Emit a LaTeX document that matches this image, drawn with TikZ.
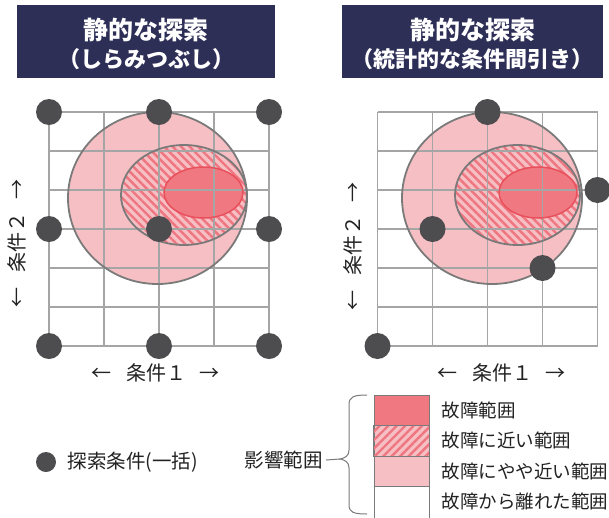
\documentclass[tikz,border=0pt]{standalone}
\usepackage{fontspec}
\setmainfont{Noto Sans CJK JP}
\usetikzlibrary{patterns.meta}
\definecolor{navy}{HTML}{2E2F57}
\definecolor{pinkL}{HTML}{F6BFC4}
\definecolor{redF}{HTML}{F07880}
\definecolor{redB}{HTML}{E8505C}
\definecolor{stripe}{HTML}{EE7680}
\definecolor{gridc}{HTML}{A5A5A5}
\definecolor{outl}{HTML}{7A7A7A}
\definecolor{dotc}{HTML}{4D4D4F}
\definecolor{txt}{HTML}{222222}
\tikzset{
  dot/.style={circle, fill=dotc, minimum size=26pt, inner sep=0pt},
  gridl/.style={draw=gridc, line width=1.1pt},
  outline/.style={draw=outl, line width=1.8pt},
  innerline/.style={draw=redB, line width=1.5pt},
  hatchA/.style={pattern={Lines[angle=-45,distance=6pt,line width=2.4pt]}, pattern color=stripe},
  hatchB/.style={pattern={Lines[angle=45,distance=6pt,line width=2.4pt]}, pattern color=stripe},
  titlebox/.style={fill=navy, text=white, minimum height=73pt, align=center, inner sep=0pt,
    font=\fontsize{25}{29}\selectfont\bfseries},
  axislabel/.style={font=\fontsize{20}{24}\selectfont, text=txt},
  leg/.style={font=\fontsize{18.5}{22}\selectfont, anchor=west, text=txt},
  legbox/.style={draw=outl, line width=1pt, minimum width=55pt, inner sep=0pt},
  braceline/.style={draw=outl, line width=1pt},
}
\begin{document}
\begin{tikzpicture}[x=1pt,y=-1pt]
\useasboundingbox (0,0) rectangle (609,517);
\fill[white] (0,0) rectangle (609,517);

% titles
\fill[navy] (17,5) rectangle (275,78);
\fill[navy] (342,5) rectangle (603,78);
\node[titlebox, fill=none, minimum width=258pt] (t1) at (146,44)
  {静的な探索\\[-1pt]{\fontsize{22}{26}\selectfont （しらみつぶし）}};
\node[titlebox, fill=none, minimum width=261pt] (t2) at (472.5,44)
  {静的な探索\\[-1pt]{\fontsize{22}{26}\selectfont （統計的な条件間引き）}};

% ---------- left panel ----------
\fill[pinkL] (157.5,198) ellipse [x radius=89.5pt, y radius=86pt];
\fill[pinkL] (184,195) ellipse [x radius=63pt, y radius=50pt];
\fill[hatchA] (184,195) ellipse [x radius=63pt, y radius=50pt];
\fill[redF] (203.5,192.5) ellipse [x radius=39.5pt, y radius=25.5pt];
\foreach \x in {49,104,159,214,269} \draw[gridl] (\x,112) -- (\x,346);
\foreach \y in {112,151,190,229,268,307,346} \draw[gridl] (49,\y) -- (269,\y);
\draw[outline] (157.5,198) ellipse [x radius=89.5pt, y radius=86pt];
\draw[outline] (184,195) ellipse [x radius=63pt, y radius=50pt];
\draw[innerline] (203.5,192.5) ellipse [x radius=39.5pt, y radius=25.5pt];
\node[dot] (a1) at (49,112) {};
\node[dot] (a2) at (159,112) {};
\node[dot] (a3) at (269,112) {};
\node[dot] (a4) at (49,229) {};
\node[dot] (a5) at (159,229) {};
\node[dot] (a6) at (269,229) {};
\node[dot] (a7) at (49,346) {};
\node[dot] (a8) at (159,346) {};
\node[dot] (a9) at (269,346) {};
\node[axislabel] (ax1) at (155,373) {←\hspace{15pt}条件１\hspace{13pt}→};
\node[axislabel, rotate=90] (ay1) at (17,243) {←\hspace{15pt}条件２\hspace{13pt}→};

% ---------- right panel ----------
\fill[pinkL] (492,198) ellipse [x radius=90pt, y radius=86pt];
\fill[pinkL] (517.5,195) ellipse [x radius=62.5pt, y radius=50pt];
\fill[hatchA] (517.5,195) ellipse [x radius=62.5pt, y radius=50pt];
\fill[redF] (538,192.5) ellipse [x radius=39pt, y radius=25.5pt];
\foreach \x in {377.5,432.5,487.5,542.5,597.5} \draw[gridl] (\x,112) -- (\x,346);
\foreach \y in {112,151,190,229,268,307,346} \draw[gridl] (377.5,\y) -- (597.5,\y);
\draw[outline] (492,198) ellipse [x radius=90pt, y radius=86pt];
\draw[outline] (517.5,195) ellipse [x radius=62.5pt, y radius=50pt];
\draw[innerline] (538,192.5) ellipse [x radius=39pt, y radius=25.5pt];
\node[dot] (b1) at (487.5,112) {};
\node[dot] (b2) at (597.5,190) {};
\node[dot] (b3) at (432.5,229) {};
\node[dot] (b4) at (542.5,268) {};
\node[dot] (b5) at (377.5,346) {};
\node[axislabel] (ax2) at (501,373) {←\hspace{15pt}条件１\hspace{13pt}→};
\node[axislabel, rotate=90] (ay2) at (353,246) {←\hspace{15pt}条件２\hspace{13pt}→};

% ---------- legend ----------
\node[dot, minimum size=20pt] (ld) at (46,462) {};
\node[leg, font=\fontsize{19.5}{22}\selectfont] (ldt) at (64,462) {探索条件(一括)};
\node[leg, font=\fontsize{19.5}{22}\selectfont] (eik) at (241,460) {影響範囲};
\coordinate (btip) at (340,459);
\draw[braceline] (eik.east) -- (btip);
\draw[braceline] (367,395) .. controls (353,395) and (349,397) .. (349,405)
  -- (349,450) .. controls (349,456) and (345,458) .. (btip)
  .. controls (345,460) and (349,462) .. (349,468)
  -- (349,505) .. controls (349,512) and (353,514) .. (367,514);

\node[legbox, fill=redF, minimum height=30.5pt] (k1) at (401.5,410.25) {};
\node[legbox, fill=pinkL, minimum height=30.5pt] (k2) at (401.5,440.75) {};
\fill[hatchB] (k2.south west) rectangle (k2.north east);
\draw[draw=outl, line width=1pt] (k2.south west) rectangle (k2.north east);
\node[legbox, fill=pinkL, minimum height=30.5pt] (k3) at (401.5,471.25) {};
\node[legbox, fill=white, minimum height=34pt] (k4) at (401.5,503.5) {};
\node[leg] (kt1) at (438,410) {故障範囲};
\node[leg] (kt2) at (438,440.5) {故障に近い範囲};
\node[leg] (kt3) at (438,471) {故障にやや近い範囲};
\node[leg] (kt4) at (438,501) {故障から離れた範囲};
\end{tikzpicture}
\end{document}
